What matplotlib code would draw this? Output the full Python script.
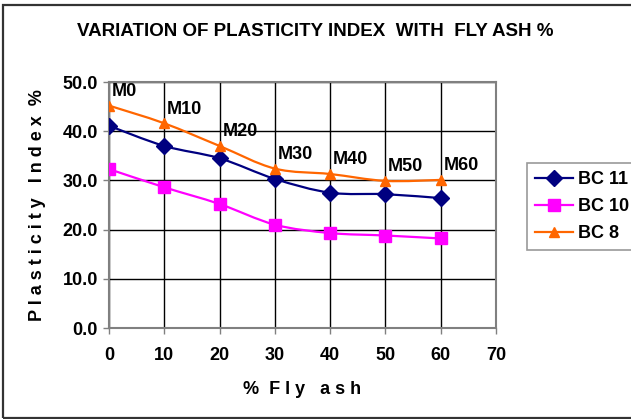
import numpy as np
import matplotlib
matplotlib.use("Agg")
import matplotlib.pyplot as plt
from matplotlib.path import Path
from matplotlib.patches import PathPatch, Rectangle
from matplotlib.lines import Line2D

plt.rcParams["font.family"] = ["Liberation Sans", "DejaVu Sans"]
plt.rcParams["font.weight"] = "bold"

# --- data ---
fly_ash = [0, 10, 20, 30, 40, 50, 60]
bc11 = [41.1, 37.0, 34.5, 30.3, 27.5, 27.2, 26.4]
bc10 = [32.3, 28.6, 25.2, 21.0, 19.3, 18.8, 18.2]
bc8 = [45.2, 41.6, 37.0, 32.4, 31.3, 29.9, 30.1]
mix_labels = ["M0", "M10", "M20", "M30", "M40", "M50", "M60"]

series = [
    ("BC 11", bc11, "#000080", "D", 8),
    ("BC 10", bc10, "#FF00FF", "s", 9),
    ("BC 8", bc8, "#FF6600", "^", 7.5),
]

FS = 13


def smooth_path(x, y):
    # Excel-style smoothed line: Catmull-Rom segments as cubic Beziers
    pts = np.column_stack([x, y]).astype(float)
    n = len(pts)
    verts = [pts[0]]
    codes = [Path.MOVETO]
    for i in range(n - 1):
        p0 = pts[max(i - 1, 0)]
        p1 = pts[i]
        p2 = pts[i + 1]
        p3 = pts[min(i + 2, n - 1)]
        c1 = p1 + (p2 - p0) / 6.0
        c2 = p2 - (p3 - p1) / 6.0
        verts += [c1, c2, p2]
        codes += [Path.CURVE4] * 3
    return Path(verts, codes)


fig = plt.figure(figsize=(6.31, 4.19), dpi=100)
ax = fig.add_axes([109 / 631, 1 - 328 / 419, (496 - 109) / 631, (328 - 82) / 419])

handles = []
for name, vals, color, marker, ms in series:
    ax.add_patch(PathPatch(smooth_path(fly_ash, vals), fill=False,
                           edgecolor=color, lw=1.6, zorder=3))
    ax.plot(fly_ash, vals, linestyle="none", marker=marker, ms=ms,
            color=color, zorder=4)
    handles.append(Line2D([], [], color=color, lw=1.6, marker=marker,
                          ms=ms, label=name))

for x, y, lab in zip(fly_ash, bc8, mix_labels):
    ax.annotate(lab, (x, y), xytext=(2, 4), textcoords="offset points",
                fontsize=FS, fontweight="bold", ha="left", va="bottom")

ax.set_xlim(0, 70)
ax.set_ylim(0, 50)
ax.set_xticks(range(0, 71, 10))
ax.set_yticks(range(0, 51, 10))
ax.set_yticklabels([f"{v:.1f}" for v in range(0, 51, 10)])
ax.grid(True, color="black", lw=1.0)
ax.set_axisbelow(True)
for s in ax.spines.values():
    s.set_color("#808080")
    s.set_linewidth(1.5)
ax.tick_params(axis="both", labelsize=FS, length=4, width=1, color="#808080")
ax.tick_params(axis="x", pad=10)
ax.tick_params(axis="y", pad=4)
for lab in ax.get_xticklabels() + ax.get_yticklabels():
    lab.set_fontweight("bold")

ax.set_xlabel("%  F l y   a s h", fontsize=FS, fontweight="bold", labelpad=12)
ax.set_ylabel("P l a s t i c i t y   I n d e x  %", fontsize=FS,
              fontweight="bold", labelpad=12)

fig.text(315 / 631, 1 - 31 / 419, "VARIATION OF PLASTICITY INDEX  WITH  FLY ASH %",
         ha="center", va="center", fontsize=13.5, fontweight="bold")

leg = fig.legend(handles=handles, loc="upper left",
                 bbox_to_anchor=(527 / 631, 1 - 163 / 419),
                 frameon=True, fancybox=False, edgecolor="#808080",
                 prop={"size": FS, "weight": "bold"}, handlelength=2.1,
                 borderaxespad=0, labelspacing=0.55, handletextpad=0.25,
                 borderpad=0.45)
leg.get_frame().set_linewidth(1.2)

fig.patches.append(Rectangle((3 / 631, 1 - 418 / 419), 1.2, 413 / 419,
                             transform=fig.transFigure, fill=False,
                             edgecolor="#333333", lw=1.6))

fig.savefig("out.png", dpi=100)
